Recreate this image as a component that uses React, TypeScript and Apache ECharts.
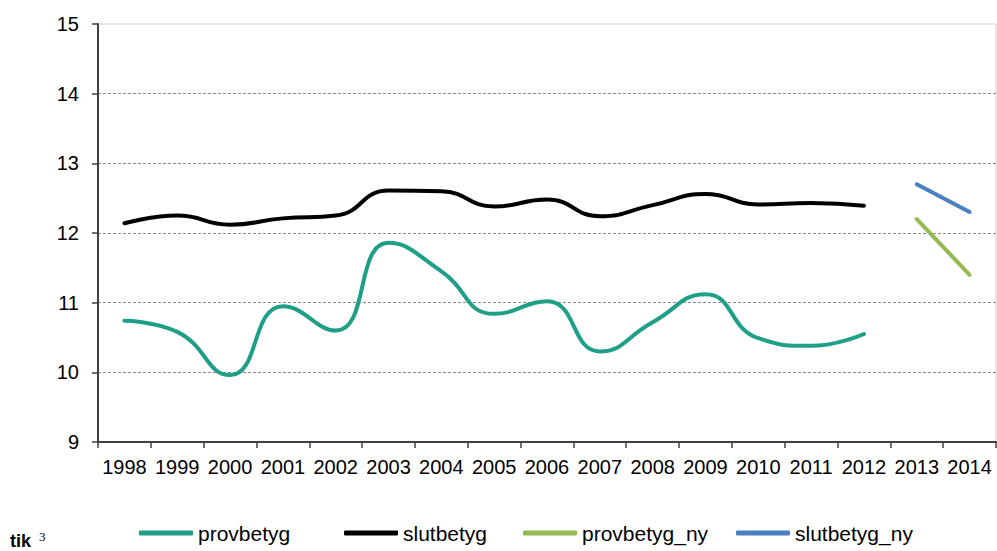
import React, { useEffect, useRef } from 'react';
import * as echarts from 'echarts';

const years = ['1998', '1999', '2000', '2001', '2002', '2003', '2004', '2005', '2006', '2007', '2008', '2009', '2010', '2011', '2012', '2013', '2014'];
const provbetyg = [10.74, 10.58, 9.96, 10.95, 10.6, 11.86, 11.45, 10.84, 11.02, 10.3, 10.72, 11.12, 10.49, 10.38, 10.55];
const slutbetyg = [12.14, 12.25, 12.12, 12.21, 12.25, 12.61, 12.6, 12.38, 12.48, 12.24, 12.4, 12.56, 12.41, 12.43, 12.39];
const provbetygNyYears = ['2013', '2014'];
const provbetygNy = [12.2, 11.4];
const slutbetygNy = [12.7, 12.3];
const yMin = 9;
const yMax = 15;
const yStep = 1;

const FONT = '"Liberation Sans", Arial, sans-serif';

function padOld(vals: number[]) {
  return years.map((_, i) => (i < vals.length ? vals[i] : null));
}
function padNew(vals: number[]) {
  return years.map((y) => {
    const k = provbetygNyYears.indexOf(y);
    return k >= 0 ? vals[k] : null;
  });
}

export default function App() {
  const ref = useRef<HTMLDivElement>(null);
  useEffect(() => {
    if (!ref.current) return;
    const chart = echarts.init(ref.current, undefined, { renderer: 'svg' });
    const legendCommon = {
      top: 522,
      icon: 'roundRect',
      itemWidth: 54,
      itemHeight: 5,
      padding: 0,
      itemGap: 0,
      textStyle: { fontSize: 21, color: '#000', fontFamily: FONT, lineHeight: 22 },
    };
    const lineSeries = (name: string, data: (number | null)[], color: string) => ({
      name,
      type: 'line',
      data,
      smooth: 0.5,
      symbol: 'none',
      connectNulls: false,
      lineStyle: { width: 4, color, cap: 'round', join: 'round' },
      itemStyle: { color },
    });
    chart.setOption({
      animation: false,
      backgroundColor: '#fff',
      grid: {
        left: 98,
        right: 1,
        top: 24,
        bottom: 109,
        show: true,
        borderColor: '#cfcfcf',
        borderWidth: 1,
      },
      xAxis: {
        type: 'category',
        data: years,
        boundaryGap: true,
        axisLine: { lineStyle: { color: '#404040', width: 2 } },
        axisTick: { show: true, length: 6, lineStyle: { color: '#404040', width: 1.5 } },
        axisLabel: { interval: 0, fontSize: 20, color: '#000', fontFamily: FONT, margin: 15 },
        splitLine: { show: false },
      },
      yAxis: {
        type: 'value',
        min: yMin,
        max: yMax,
        interval: yStep,
        axisLine: { show: true, lineStyle: { color: '#404040', width: 2 } },
        axisTick: { show: true, length: 6, lineStyle: { color: '#404040', width: 1.5 } },
        axisLabel: { fontSize: 20, color: '#000', fontFamily: FONT, margin: 19 },
        splitLine: {
          show: true,
          lineStyle: {
            color: ['#8a8a8a', '#8a8a8a', '#8a8a8a', '#8a8a8a', '#8a8a8a', '#8a8a8a', 'rgba(0,0,0,0)'],
            type: [3, 2],
            width: 1,
          },
        },
      },
      legend: [
        { ...legendCommon, left: 139, data: ['provbetyg'] },
        { ...legendCommon, left: 344, data: ['slutbetyg'] },
        { ...legendCommon, left: 523, data: ['provbetyg_ny'] },
        { ...legendCommon, left: 736, data: ['slutbetyg_ny'] },
      ],
      series: [
        lineSeries('provbetyg', padOld(provbetyg), '#1f9e88'),
        lineSeries('slutbetyg', padOld(slutbetyg), '#000000'),
        lineSeries('provbetyg_ny', padNew(provbetygNy), '#94bb52'),
        lineSeries('slutbetyg_ny', padNew(slutbetygNy), '#4a7fc1'),
      ],
      graphic: [
        {
          type: 'text',
          x: 10,
          y: 532,
          style: { text: 'tik', font: 'bold 18px "Liberation Sans", Arial, sans-serif', fill: '#000', verticalAlign: 'top' },
        },
        {
          type: 'text',
          x: 39,
          y: 530,
          style: { text: '3', font: '13px "Liberation Serif", serif', fill: '#000', verticalAlign: 'top' },
        },
      ],
    });
    return () => chart.dispose();
  }, []);
  return (
    <div
      ref={ref}
      style={{ position: 'fixed', left: 0, top: 0, width: 997, height: 551, background: '#fff' }}
    />
  );
}
